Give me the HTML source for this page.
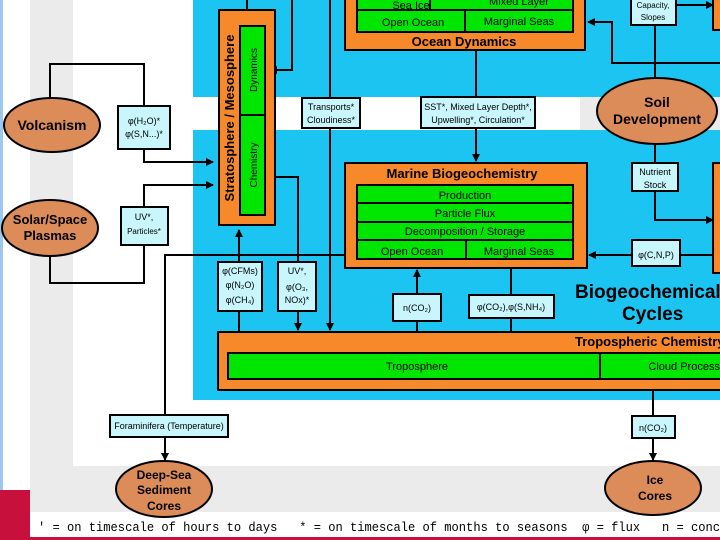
<!DOCTYPE html>
<html><head><meta charset="utf-8"><style>
body{margin:0;width:720px;height:540px;overflow:hidden;background:#fff}
svg{display:block}
text{font-family:"Liberation Sans",sans-serif;fill:#000}
.s{font-size:9px}
.b{font-weight:bold}
</style></head><body>
<svg width="720" height="540" viewBox="0 0 720 540">
<defs><marker id="a" markerWidth="8" markerHeight="8" refX="7" refY="4" orient="auto" markerUnits="userSpaceOnUse"><path d="M0,0L8,4L0,8z" fill="#000"/></marker></defs>
<rect x="0" y="0" width="3" height="540" fill="#9cc8f0"/>
<rect x="30" y="0" width="690" height="512" fill="#ebebeb"/>
<rect x="73" y="0" width="647" height="466" fill="#fff"/>
<rect x="193" y="0" width="527" height="97" fill="#1cc4f2"/>
<rect x="580" y="97" width="140" height="33" fill="#ebebeb"/>
<rect x="193" y="130" width="527" height="270" fill="#1cc4f2"/>
<rect x="0" y="490" width="30" height="50" fill="#c8103c"/>
<rect x="0" y="537" width="720" height="3" fill="#c8103c"/>
<g stroke="#000" stroke-width="2" fill="none">
<path d="M50,98V64H144V106"/><path d="M144,149V162H213" marker-end="url(#a)"/>
<path d="M144,207V185H213" marker-end="url(#a)"/>
<path d="M50,256V283H144V245"/>
<path d="M165,415V255H345"/>
<path d="M165,437V460" marker-end="url(#a)"/>
<path d="M247,0V10"/>
<path d="M292,0V70H270" marker-end="url(#a)"/>
<path d="M330,0V330" marker-end="url(#a)"/>
<path d="M275,177H298V330" marker-end="url(#a)"/>
<path d="M239,353V230" marker-end="url(#a)"/>
<path d="M476,50V161" marker-end="url(#a)"/>
<path d="M417,353V270" marker-end="url(#a)"/>
<path d="M511,268V340" marker-end="url(#a)"/>
<path d="M720,63H612V22H588" marker-end="url(#a)"/>
<path d="M675,5H713" marker-end="url(#a)"/>
<path d="M655,25V78"/>
<path d="M655,144V220H713" marker-end="url(#a)"/>
<path d="M720,255H589" marker-end="url(#a)"/>
<path d="M653,390V460" marker-end="url(#a)"/>
</g>
<g stroke="#000" stroke-width="2">
<rect x="219" y="10" width="56" height="215" fill="#f7892a"/>
<rect x="240" y="26" width="25" height="189" fill="#00e600"/>
<line x1="240" y1="115" x2="265" y2="115"/>
<rect x="345" y="-5" width="240" height="55" fill="#f7892a"/>
<rect x="357" y="-5" width="216" height="37" fill="#00e600"/>
<line x1="357" y1="10" x2="573" y2="10"/><line x1="465" y1="10" x2="465" y2="32"/><line x1="430" y1="-5" x2="430" y2="10"/>
<rect x="345" y="163" width="242" height="105" fill="#f7892a"/>
<rect x="357" y="185" width="216" height="74" fill="#00e600"/>
<line x1="357" y1="203" x2="573" y2="203"/><line x1="357" y1="222" x2="573" y2="222"/><line x1="357" y1="240" x2="573" y2="240"/><line x1="466" y1="240" x2="466" y2="259"/>
<rect x="713" y="-5" width="12" height="35" fill="#f7892a"/>
<rect x="713" y="163" width="12" height="110" fill="#f7892a"/>
<rect x="218" y="332" width="510" height="58" fill="#f7892a"/>
<rect x="228" y="353" width="500" height="26" fill="#00e600"/>
<line x1="600" y1="353" x2="600" y2="379"/>
<g fill="#c8f6fc">
<rect x="118" y="106" width="52" height="43"/>
<rect x="121" y="207" width="47" height="38"/>
<rect x="302" y="98" width="58" height="30"/>
<rect x="421" y="97" width="114" height="31"/>
<rect x="631" y="-5" width="45" height="30"/>
<rect x="632" y="163" width="46" height="28"/>
<rect x="632" y="240" width="48" height="26"/>
<rect x="218" y="262" width="44" height="49"/>
<rect x="278" y="262" width="38" height="49"/>
<rect x="393" y="294" width="48" height="27"/>
<rect x="469" y="295" width="85" height="23"/>
<rect x="110" y="415" width="118" height="22"/>
<rect x="632" y="416" width="43" height="22"/>
</g>
<g fill="#dc8c58">
<ellipse cx="52" cy="125" rx="48" ry="27"/>
<ellipse cx="50" cy="228" rx="48" ry="28"/>
<ellipse cx="657" cy="111" rx="60" ry="33"/>
<ellipse cx="164" cy="489" rx="48" ry="28"/>
<ellipse cx="653" cy="488" rx="48" ry="27"/>
</g>
</g>
<g text-anchor="middle">
<text x="52" y="130" font-size="14" class="b">Volcanism</text>
<text x="50" y="224" font-size="13" class="b">Solar/Space</text><text x="50" y="240" font-size="13" class="b">Plasmas</text>
<text x="657" y="107" font-size="14" class="b">Soil</text><text x="657" y="124" font-size="14" class="b">Development</text>
<text x="164" y="479" font-size="12" class="b">Deep-Sea</text><text x="164" y="494" font-size="12" class="b">Sediment</text><text x="164" y="510" font-size="12" class="b">Cores</text>
<text x="655" y="484" font-size="12" class="b">Ice</text><text x="655" y="500" font-size="12" class="b">Cores</text>
<text x="144" y="124" class="s">φ(H₂O)*</text><text x="144" y="137" class="s">φ(S,N...)*</text>
<text x="144" y="220" class="s">UV*,</text><text x="144" y="234" font-size="8">Particles*</text>
<text x="331" y="110" class="s">Transports*</text><text x="331" y="123" class="s">Cloudiness*</text>
<text x="478" y="110" class="s">SST*, Mixed Layer Depth*,</text><text x="478" y="123" class="s">Upwelling*, Circulation*</text>
<text x="653" y="8" font-size="8">Capacity,</text><text x="653" y="20" font-size="8">Slopes</text>
<text x="655" y="175" class="s">Nutrient</text><text x="655" y="188" class="s">Stock</text>
<text x="656" y="258" class="s">φ(C,N,P)</text>
<text x="240" y="274" class="s">φ(CFMs)</text><text x="240" y="288" class="s">φ(N₂O)</text><text x="240" y="303" class="s">φ(CH₄)</text>
<text x="297" y="274" class="s">UV*,</text><text x="297" y="290" class="s">φ(O₃,</text><text x="297" y="303" class="s">NOx)*</text>
<text x="417" y="311" class="s">n(CO₂)</text>
<text x="511" y="310" class="s">φ(CO₂),φ(S,NH₄)</text>
<text x="169" y="429" class="s">Foraminifera (Temperature)</text>
<text x="653" y="431" class="s">n(CO₂)</text>
<text x="411" y="9" font-size="11">Sea Ice</text><text x="519" y="5" font-size="11">Mixed Layer</text>
<text x="413" y="26" font-size="11">Open Ocean</text><text x="519" y="25" font-size="11">Marginal Seas</text>
<text x="464" y="46" font-size="13" class="b">Ocean Dynamics</text>
<text x="462" y="178" font-size="13" class="b">Marine Biogeochemistry</text>
<text x="465" y="199" font-size="11">Production</text>
<text x="465" y="217" font-size="11">Particle Flux</text>
<text x="465" y="235" font-size="11">Decomposition / Storage</text>
<text x="412" y="255" font-size="11">Open Ocean</text><text x="519" y="255" font-size="11">Marginal Seas</text>
<text x="417" y="370" font-size="11">Troposphere</text>
<text x="690" y="370" font-size="11">Cloud Processes</text>
</g>
<text x="575" y="298" font-size="19" class="b">Biogeochemical</text>
<text x="622" y="320" font-size="19" class="b">Cycles</text>
<text x="575" y="346" font-size="13" class="b">Tropospheric Chemistry</text>
<g text-anchor="middle">
<text transform="translate(234,118) rotate(-90)" font-size="13" class="b">Stratosphere / Mesosphere</text>
<text transform="translate(257,70) rotate(-90)" font-size="10">Dynamics</text>
<text transform="translate(257,165) rotate(-90)" font-size="10">Chemistry</text>
</g>
<text x="38" y="531" textLength="682" lengthAdjust="spacingAndGlyphs" style="white-space:pre;font-family:'Liberation Mono',monospace;font-size:13px" xml:space="preserve">' = on timescale of hours to days   * = on timescale of months to seasons  φ = flux   n = conc</text>
</svg>
</body></html>
